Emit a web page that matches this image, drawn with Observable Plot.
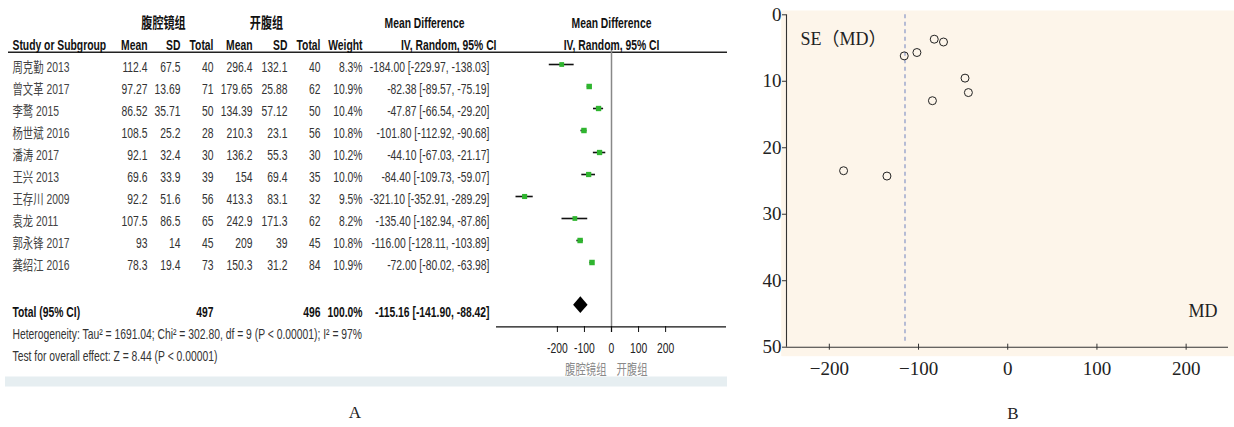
<!DOCTYPE html>
<html><head><meta charset="utf-8">
<script src="https://cdn.jsdelivr.net/npm/d3@7"></script>
<script src="https://cdn.jsdelivr.net/npm/@observablehq/plot@0.6"></script>
<style>
body{margin:0;background:#fff;}
#wrap{position:relative;width:1234px;height:427px;overflow:hidden;background:#fff;}
#a{position:absolute;left:0;top:0;}
#b{position:absolute;left:740px;top:0;}
.cap{position:absolute;font-family:"Liberation Serif","Times New Roman",serif;font-size:17px;color:#222;transform:translate(-50%,-50%);}
</style></head><body>
<div id="wrap"><div id="a"></div><div id="b"></div>
<div class="cap" style="left:355px;top:413px">A</div>
<div class="cap" style="left:1013px;top:414px">B</div></div>
<script>
// ---- data ----
const studies = ["周克勤 2013","曾文革 2017","李鹜 2015","杨世斌 2016","潘涛 2017","王兴 2013","王存川 2009","袁龙 2011","郭永锋 2017","龚绍江 2016"];
const lapMean = [112.4, 97.27, 86.52, 108.5, 92.1, 69.6, 92.2, 107.5, 93, 78.3];
const lapSD   = [67.5, 13.69, 35.71, 25.2, 32.4, 33.9, 51.6, 86.5, 14, 19.4];
const lapN    = [40, 71, 50, 28, 30, 39, 56, 65, 45, 73];
const openMean = [296.4, 179.65, 134.39, 210.3, 136.2, 154, 413.3, 242.9, 209, 150.3];
const openSD   = [132.1, 25.88, 57.12, 23.1, 55.3, 69.4, 83.1, 171.3, 39, 31.2];
const openN    = [40, 62, 50, 56, 30, 35, 32, 62, 45, 84];
const weight   = [8.3, 10.9, 10.4, 10.8, 10.2, 10.0, 9.5, 8.2, 10.8, 10.9];
const md       = [-184.00, -82.38, -47.87, -101.80, -44.10, -84.40, -321.10, -135.40, -116.00, -72.00];
const ciLow    = [-229.97, -89.57, -66.54, -112.92, -67.03, -109.73, -352.91, -182.94, -128.11, -80.02];
const ciHigh   = [-138.03, -75.19, -29.20, -90.68, -21.17, -59.07, -289.29, -87.86, -103.89, -63.98];
const totalLapN = 497, totalOpenN = 496, totalWeight = 100.0;
const totalMD = -115.16, totalLow = -141.90, totalHigh = -88.42;
const heterogeneity = "Heterogeneity: Tau² = 1691.04; Chi² = 302.80, df = 9 (P < 0.00001); I² = 97%";
const overall = "Test for overall effect: Z = 8.44 (P < 0.00001)";
const forestTicks = [-200, -100, 0, 100, 200];
const funnelXTicks = [-200, -100, 0, 100, 200];
const funnelYTicks = [0, 10, 20, 30, 40, 50];

// ---- panel A ----
const sans = '"Liberation Sans",Arial,"Noto Sans CJK SC",sans-serif';
const cjk = '"Noto Sans CJK SC",sans-serif';
const condense = 0.74;
const rows = studies.map((s, i) => ({study: s, lapMean: lapMean[i], lapSD: lapSD[i], lapN: lapN[i],
  openMean: openMean[i], openSD: openSD[i], openN: openN[i], weight: weight[i], md: md[i], lo: ciLow[i], hi: ciHigh[i]}));
const yDomain = ["h1", "h2", ...studies, "gap", "total", "het", "test"];
const forestDomain = [-425, 425], forestRange = [496, 726];
const L = 8;
const col = {name: 12, lapMean: 147, lapSD: 180, lapN: 213, openMean: 252, openSD: 287, openN: 320, weight: 362, ci: 489, ciHead: 496, lapHead: 163, openHead: 266, mdHead: 424};
const fmtCI = (m, lo, hi) => `${m.toFixed(2)} [${lo.toFixed(2)}, ${hi.toFixed(2)}]`;
function colText(data, key, opts) {
  return Plot.text(data, {frameAnchor: "left", dx: col[key] - L, textAnchor: key === "name" ? "start" : "end", ...opts});
}
const head = (label, key, y, extra = {}) => colText([label], key, {y: () => y, text: d => d, dy: 3, fontWeight: "bold", fill: "#111", ...extra});

const xs = Plot.scale({x: {domain: forestDomain, range: forestRange}});
const halfW = (xs.apply(totalHigh) - xs.apply(totalLow)) / 2, halfH = 8.4;
const diamond = {draw(ctx) { ctx.moveTo(-halfW, 0); ctx.lineTo(0, -halfH); ctx.lineTo(halfW, 0); ctx.lineTo(0, halfH); ctx.closePath(); }};

const cell = {fill: "#333", dy: 3};
const plotA = Plot.plot({
  width: 730, height: 400, marginTop: 47, marginLeft: L, marginRight: 3, marginBottom: 68,
  x: {domain: forestDomain, range: forestRange, axis: null, label: null},
  y: {type: "point", domain: yDomain, range: [14.4, 356.4], padding: 0, axis: null, label: null},
  r: {type: "sqrt", domain: [0, 11], range: [0, 3.1]},
  style: {fontFamily: sans, fontSize: "14px", color: "#222", background: "transparent"},
  marks: [
    Plot.ruleY(["test"], {dy: 31, stroke: "#e6eef1", strokeWidth: 10, insetLeft: -3}),
    Plot.ruleY(["h2"], {dy: 9.8, stroke: "#222", strokeWidth: 1.4}),
    Plot.ruleX([0], {stroke: "#888", strokeWidth: 1.5}),
    Plot.ruleY(["het"], {x1: forestDomain[0], x2: forestDomain[1], dy: -1.6, stroke: "#111", strokeWidth: 1.4}),
    Plot.axisX({ticks: forestTicks, tickSize: -6, tickPadding: 17, tickFormat: d => String(d), fontSize: 14, stroke: "#111", label: null}),
    Plot.text(["腹腔镜组"], {x: () => 0, y: () => "test", text: d => d, dx: -5, dy: 19, textAnchor: "end", fontFamily: cjk, fontSize: 14, fill: "#8a8a8a"}),
    Plot.text(["开腹组"], {x: () => 0, y: () => "test", text: d => d, dx: 5, dy: 19, textAnchor: "start", fontFamily: cjk, fontSize: 14, fill: "#8a8a8a"}),
    // headers
    head("腹腔镜组", "lapHead", "h1", {textAnchor: "middle", fontFamily: cjk, fontSize: 15}),
    head("开腹组", "openHead", "h1", {textAnchor: "middle", fontFamily: cjk, fontSize: 15}),
    head("Mean Difference", "mdHead", "h1", {textAnchor: "middle"}),
    Plot.text(["Mean Difference"], {x: () => 0, y: () => "h1", text: d => d, dy: 3, fontWeight: "bold", fill: "#111"}),
    head("Study or Subgroup", "name", "h2"),
    head("Mean", "lapMean", "h2"), head("SD", "lapSD", "h2"), head("Total", "lapN", "h2"),
    head("Mean", "openMean", "h2"), head("SD", "openSD", "h2"), head("Total", "openN", "h2"),
    head("Weight", "weight", "h2"), head("IV, Random, 95% CI", "ciHead", "h2"),
    Plot.text(["IV, Random, 95% CI"], {x: () => 0, y: () => "h2", text: d => d, dy: 3, fontWeight: "bold", fill: "#111"}),
    // rows
    colText(rows, "name", {y: "study", text: "study", ...cell, fill: "#444"}),
    colText(rows, "lapMean", {y: "study", text: d => String(d.lapMean), ...cell}),
    colText(rows, "lapSD", {y: "study", text: d => String(d.lapSD), ...cell}),
    colText(rows, "lapN", {y: "study", text: d => String(d.lapN), ...cell}),
    colText(rows, "openMean", {y: "study", text: d => String(d.openMean), ...cell}),
    colText(rows, "openSD", {y: "study", text: d => String(d.openSD), ...cell}),
    colText(rows, "openN", {y: "study", text: d => String(d.openN), ...cell}),
    colText(rows, "weight", {y: "study", text: d => d.weight.toFixed(1) + "%", ...cell}),
    colText(rows, "ci", {y: "study", text: d => fmtCI(d.md, d.lo, d.hi), ...cell}),
    // total
    colText(["Total (95% CI)"], "name", {y: () => "total", text: d => d, dy: 6, fontWeight: "bold", fill: "#111"}),
    colText([totalLapN], "lapN", {y: () => "total", text: d => String(d), dy: 6, fontWeight: "bold", fill: "#111"}),
    colText([totalOpenN], "openN", {y: () => "total", text: d => String(d), dy: 6, fontWeight: "bold", fill: "#111"}),
    colText([totalWeight], "weight", {y: () => "total", text: d => d.toFixed(1) + "%", dy: 6, fontWeight: "bold", fill: "#111"}),
    colText([totalMD], "ci", {y: () => "total", text: () => fmtCI(totalMD, totalLow, totalHigh), dy: 6, fontWeight: "bold", fill: "#111"}),
    colText([heterogeneity], "name", {y: () => "het", text: d => d, dy: 6, fill: "#333"}),
    colText([overall], "name", {y: () => "test", text: d => d, dy: 6, fill: "#333"}),
    // forest
    Plot.ruleY(rows, {y: "study", x1: "lo", x2: "hi", stroke: "#111", strokeWidth: 1.6}),
    Plot.dot(rows, {x: "md", y: "study", r: "weight", symbol: "square", fill: "#2fb52f", stroke: "none"}),
    Plot.dot([totalMD], {x: d => d, y: () => "total", symbol: diamond, r: 5, fill: "#000", stroke: "none", dy: -1.8})
  ]
});
// condense the table lettering horizontally, as in the reference
plotA.querySelectorAll("text").forEach(t => {
  const x = +(t.getAttribute("x") || 0);
  if (x) t.setAttribute("x", 0);
  const tr = t.getAttribute("transform") || "";
  t.setAttribute("transform", `${tr} translate(${x},0) scale(${condense},1)`);
});
document.getElementById("a").append(plotA);

// ---- panel B ----
const serif = '"Liberation Serif","Times New Roman","Noto Sans CJK SC",serif';
const funnel = studies.map((s, i) => ({study: s, md: md[i], se: (ciHigh[i] - ciLow[i]) / (2 * 1.959964)}));
const fxDomain = [-248, 247.5];
const plotB = Plot.plot({
  width: 494, height: 400, marginLeft: 46, marginRight: 6, marginTop: 14.3, marginBottom: 53.3,
  x: {domain: fxDomain, label: null},
  y: {domain: [0, 50], reverse: true, label: null},
  style: {fontFamily: serif, fontSize: "19px", color: "#222", background: "transparent"},
  marks: [
    Plot.frame({fill: "#fdf5ea", stroke: "none", insetLeft: -5.3, insetTop: -4.3, insetRight: -6, insetBottom: -9}),
    Plot.ruleX([totalMD], {y1: 0, y2: 50, insetBottom: 3.5, stroke: "#7d8cc2", strokeDasharray: "4,3.5", strokeWidth: 1.1}),
    Plot.dot(funnel, {x: "md", y: "se", r: 4, stroke: "#222", fill: "none", strokeWidth: 1, filter: d => d.md >= fxDomain[0]}),
    Plot.ruleX([fxDomain[0]], {stroke: "#333", strokeWidth: 1.1}),
    Plot.ruleY([50], {stroke: "#333", strokeWidth: 1.1}),
    Plot.axisY({ticks: funnelYTicks, tickSize: 4, tickPadding: 1, fontSize: 19, stroke: "#333", label: null}),
    Plot.axisX({ticks: funnelXTicks, tickSize: 6, dy: -3, tickPadding: 11, fontSize: 19, stroke: "#333", label: null}),
    Plot.text(["SE（MD）"], {frameAnchor: "top-left", dx: 14, dy: 17, textAnchor: "start", text: d => d, fontSize: 18, fill: "#222"}),
    Plot.text(["MD"], {frameAnchor: "bottom-right", dx: -11, dy: -30, textAnchor: "end", text: d => d, fontSize: 18, fill: "#222"})
  ]
});
document.getElementById("b").append(plotB);
</script></body></html>
